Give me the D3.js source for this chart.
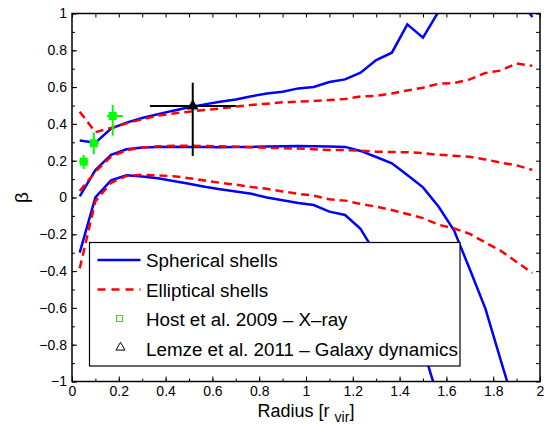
<!DOCTYPE html>
<html>
<head>
<meta charset="utf-8">
<script src="https://cdn.jsdelivr.net/npm/d3@7"></script>
<style>
  body { margin: 0; background: #fff; }
  text { font-family: "Liberation Sans", Arial, sans-serif; fill: #000; }
</style>
</head>
<body>
<div class="canvas"></div>
<script>
// radial bins (r / r_vir)
const radius = [0.033, 0.1, 0.167, 0.233, 0.3, 0.367, 0.433, 0.5, 0.567, 0.633,
  0.7, 0.767, 0.833, 0.9, 0.967, 1.033, 1.1, 1.167, 1.233, 1.3,
  1.367, 1.433, 1.5, 1.567, 1.633, 1.7, 1.767, 1.833, 1.9, 1.967];

// spherical shells (solid blue): upper, median, lower
const sphUpper = [0.31, 0.298, 0.375, 0.407, 0.432, 0.452, 0.472, 0.49, 0.506, 0.52,
  0.533, 0.55, 0.565, 0.575, 0.593, 0.601, 0.628, 0.642, 0.678, 0.747,
  0.787, 0.941, 0.869, 1.012, 1.08, 1.14, 1.18, 1.17, 1.12, 0.98];
const sphMid = [0.006, 0.149, 0.232, 0.262, 0.272, 0.275, 0.276, 0.275, 0.274, 0.273,
  0.274, 0.275, 0.277, 0.279, 0.28, 0.279, 0.277, 0.275, 0.253, 0.22,
  0.186, 0.122, 0.055, -0.05, -0.18, -0.39, -0.605, -0.888, -1.17, null];
const sphLower = [-0.30, 0.0, 0.093, 0.121, 0.114, 0.105, 0.09, 0.075, 0.058, 0.045,
  0.033, 0.02, 0.0, -0.015, -0.03, -0.041, -0.077, -0.095, -0.17, -0.31,
  -0.46, -0.63, -0.82, -1.1, null, null, null, null, null, null];

// elliptical shells (dashed red): upper, median, lower
const ellUpper = [0.466, 0.355, 0.378, 0.403, 0.425, 0.445, 0.457, 0.466, 0.476, 0.484,
  0.494, 0.503, 0.51, 0.517, 0.521, 0.525, 0.53, 0.535, 0.549, 0.553,
  0.565, 0.582, 0.597, 0.618, 0.622, 0.642, 0.677, 0.69, 0.728, 0.716];
const ellMid = [0.035, 0.14, 0.222, 0.257, 0.272, 0.278, 0.281, 0.282, 0.28, 0.278,
  0.276, 0.273, 0.27, 0.268, 0.266, 0.262, 0.258, 0.258, 0.255, 0.249,
  0.247, 0.246, 0.241, 0.232, 0.227, 0.221, 0.207, 0.189, 0.175, 0.15];
const ellLower = [-0.385, -0.02, 0.08, 0.117, 0.124, 0.12, 0.116, 0.105, 0.092, 0.08,
  0.07, 0.057, 0.047, 0.033, 0.02, 0.01, -0.01, -0.017, -0.035, -0.05,
  -0.068, -0.09, -0.112, -0.148, -0.168, -0.198, -0.245, -0.29, -0.35, -0.41];

// Host et al. 2009 (X-ray)
const hostR = [0.05, 0.093, 0.174];
const hostRLo = [0.031, 0.074, 0.15];
const hostRHi = [0.068, 0.114, 0.217];
const hostBeta = [0.195, 0.295, 0.443];
const hostBetaLo = [0.155, 0.235, 0.336];
const hostBetaHi = [0.231, 0.354, 0.503];

// Lemze et al. 2011 (galaxy dynamics)
const lemzeR = [0.516];
const lemzeRLo = [0.333];
const lemzeRHi = [0.70];
const lemzeBeta = [0.497];
const lemzeBetaLo = [0.226];
const lemzeBetaHi = [0.624];

const xTicks = [0, 0.2, 0.4, 0.6, 0.8, 1, 1.2, 1.4, 1.6, 1.8, 2];
const yTicks = [-1, -0.8, -0.6, -0.4, -0.2, 0, 0.2, 0.4, 0.6, 0.8, 1];

const legendLabels = ['Spherical shells', 'Elliptical shells',
  'Host et al. 2009 \u2013 X\u2013ray', 'Lemze et al. 2011 \u2013 Galaxy dynamics'];

// svg + margins
const width = 549, height = 426;
const margin = {top: 13.5, right: 9, bottom: 44.5, left: 72};
const graphWidth = width - margin.left - margin.right;
const graphHeight = height - margin.top - margin.bottom;

const svg = d3.select('.canvas')
  .append('svg')
    .attr('width', width)
    .attr('height', height);

const graph = svg.append('g')
  .attr('transform', `translate(${margin.left}, ${margin.top})`);

// scales
const x = d3.scaleLinear().domain([0, 2]).range([0, graphWidth]);
const y = d3.scaleLinear().domain([-1, 1]).range([graphHeight, 0]);

graph.append('clipPath').attr('id', 'clip')
  .append('rect').attr('width', graphWidth).attr('height', graphHeight);

const plot = graph.append('g').attr('clip-path', 'url(#clip)');

const line = d3.line()
  .defined(d => d[1] !== null)
  .x(d => x(d[0]))
  .y(d => y(d[1]));

const series = [
  {vals: sphUpper, color: '#0000ff', dash: null},
  {vals: sphMid, color: '#0000ff', dash: null},
  {vals: sphLower, color: '#0000ff', dash: null},
  {vals: ellUpper, color: '#ff0000', dash: '8,5'},
  {vals: ellMid, color: '#ff0000', dash: '8,5'},
  {vals: ellLower, color: '#ff0000', dash: '8,5'}
];

plot.selectAll('path.curve')
  .data(series)
  .enter()
  .append('path')
    .attr('class', 'curve')
    .attr('fill', 'none')
    .attr('stroke', d => d.color)
    .attr('stroke-width', 2.5)
    .attr('stroke-dasharray', d => d.dash)
    .attr('d', d => line(radius.map((r, i) => [r, d.vals[i]])));

// data points with error bars
const hostData = hostR.map((r, i) => ({r, rlo: hostRLo[i], rhi: hostRHi[i],
  b: hostBeta[i], blo: hostBetaLo[i], bhi: hostBetaHi[i]}));
const lemzeData = lemzeR.map((r, i) => ({r, rlo: lemzeRLo[i], rhi: lemzeRHi[i],
  b: lemzeBeta[i], blo: lemzeBetaLo[i], bhi: lemzeBetaHi[i]}));

const errBars = (data, color) => {
  const g = graph.append('g').attr('stroke', color).attr('stroke-width', 2);
  g.selectAll('line.h').data(data).enter().append('line')
    .attr('x1', d => x(d.rlo)).attr('x2', d => x(d.rhi))
    .attr('y1', d => y(d.b)).attr('y2', d => y(d.b));
  g.selectAll('line.v').data(data).enter().append('line')
    .attr('x1', d => x(d.r)).attr('x2', d => x(d.r))
    .attr('y1', d => y(d.blo)).attr('y2', d => y(d.bhi));
};

errBars(hostData, '#00ff00');
graph.selectAll('rect.host').data(hostData).enter().append('rect')
  .attr('x', d => x(d.r) - 4).attr('y', d => y(d.b) - 4)
  .attr('width', 8).attr('height', 8)
  .attr('fill', '#00ff00');

errBars(lemzeData, '#000');
const tri = d3.symbol().type(d3.symbolTriangle).size(60);
graph.selectAll('path.lemze').data(lemzeData).enter().append('path')
  .attr('d', tri)
  .attr('transform', d => `translate(${x(d.r)}, ${y(d.b)})`)
  .attr('fill', '#000');

// axes (matlab style: ticks inward, on all sides)
const minorX = d3.range(0, 21).map(i => i / 10);
const minorY = d3.range(-10, 11).map(i => i / 10);

const styleAxis = g => {
  g.select('.domain').remove();
  g.selectAll('line').attr('stroke', '#000');
};
const tickFont = g => g.selectAll('text')
  .attr('font-size', 14)
  .attr('font-family', 'Liberation Sans, Arial, sans-serif');

graph.append('g')
  .attr('transform', `translate(0, ${graphHeight})`)
  .call(d3.axisBottom(x).tickValues(xTicks).tickSize(-5).tickPadding(5)
    .tickFormat(d3.format('')))
  .call(styleAxis)
  .call(tickFont);
graph.append('g')
  .attr('transform', `translate(0, ${graphHeight})`)
  .call(d3.axisBottom(x).tickValues(minorX).tickSize(-3).tickFormat(''))
  .call(styleAxis);
graph.append('g')
  .call(d3.axisTop(x).tickValues(minorX).tickSize(-4).tickFormat(''))
  .call(styleAxis);

graph.append('g')
  .call(d3.axisLeft(y).tickValues(yTicks).tickSize(-5).tickPadding(5)
    .tickFormat(d3.format('')))
  .call(styleAxis)
  .call(tickFont);
graph.append('g')
  .call(d3.axisLeft(y).tickValues(minorY).tickSize(-3).tickFormat(''))
  .call(styleAxis);
graph.append('g')
  .attr('transform', `translate(${graphWidth}, 0)`)
  .call(d3.axisRight(y).tickValues(minorY).tickSize(-4).tickFormat(''))
  .call(styleAxis);

// frame
graph.append('rect')
  .attr('width', graphWidth).attr('height', graphHeight)
  .attr('fill', 'none').attr('stroke', '#000').attr('stroke-width', 1.5);

// legend
const legend = graph.append('g').attr('transform', 'translate(17.5, 229)');
legend.append('rect')
  .attr('width', 370.5).attr('height', 123.5)
  .attr('fill', '#fff').attr('stroke', '#000').attr('stroke-width', 1.2);

const rows = legend.selectAll('g.row').data(legendLabels).enter().append('g')
  .attr('transform', (d, i) => `translate(0, ${17.5 + i * 29.5})`);

rows.append('text')
  .attr('x', 56.5).attr('y', 7)
  .attr('font-size', 18.8)
  .text(d => d);

rows.filter((d, i) => i < 2).append('line')
  .attr('x1', 8).attr('x2', 51).attr('y1', 0).attr('y2', 0)
  .attr('stroke', (d, i) => i === 0 ? '#0000ff' : '#ff0000')
  .attr('stroke-width', 2.5)
  .attr('stroke-dasharray', (d, i) => i === 0 ? null : '8,6');

rows.filter((d, i) => i === 2).append('rect')
  .attr('x', 27).attr('y', -3.5).attr('width', 6).attr('height', 6)
  .attr('fill', 'none').attr('stroke', '#00ff00').attr('stroke-width', 1);

rows.filter((d, i) => i === 3).append('path')
  .attr('d', d3.symbol().type(d3.symbolTriangle).size(35))
  .attr('transform', 'translate(31, -1)')
  .attr('fill', 'none').attr('stroke', '#000').attr('stroke-width', 1);

// axis labels
const xLabel = svg.append('text')
  .attr('x', margin.left + graphWidth / 2)
  .attr('y', 416.5)
  .attr('text-anchor', 'middle')
  .attr('font-size', 18);
xLabel.append('tspan').text('Radius [r ');
xLabel.append('tspan').attr('font-size', 14).attr('dy', 5).text(' vir');
xLabel.append('tspan').attr('dy', -5).text(']');

svg.append('text')
  .attr('transform', `translate(28, ${margin.top + graphHeight / 2}) rotate(-90)`)
  .attr('text-anchor', 'middle')
  .attr('font-size', 19)
  .text('\u03b2');
</script>
</body>
</html>
